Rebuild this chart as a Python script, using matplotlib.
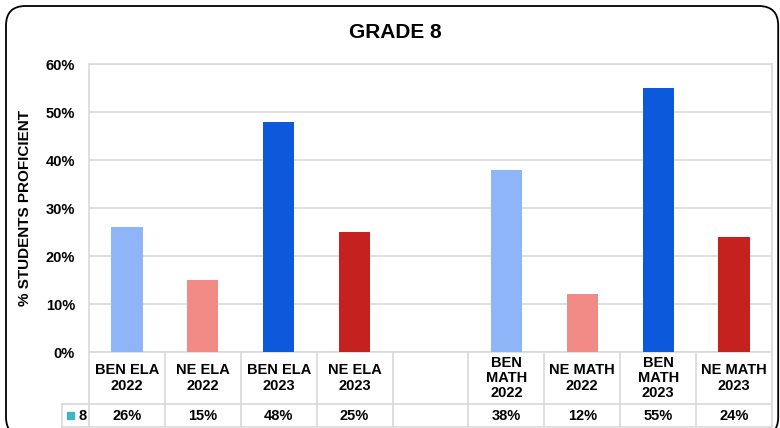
import matplotlib.pyplot as plt
import matplotlib.transforms as mtransforms
from matplotlib.patches import FancyBboxPatch, Rectangle
import numpy as np

plt.rcParams['font.family'] = ['Liberation Sans', 'DejaVu Sans']
plt.rcParams['font.weight'] = 'bold'

# data
categories = ['BEN ELA\n2022', 'NE ELA\n2022', 'BEN ELA\n2023', 'NE ELA\n2023', '',
              'BEN\nMATH\n2022', 'NE MATH\n2022', 'BEN\nMATH\n2023', 'NE MATH\n2023']
values = [26, 15, 48, 25, None, 38, 12, 55, 24]
bar_colors = ['#8FB5F9', '#F28B85', '#0C59DB', '#C5221F', 'none',
              '#8FB5F9', '#F28B85', '#0C59DB', '#C5221F']
series_name = '8'
yticks = [0, 10, 20, 30, 40, 50, 60]

W, H = 780, 428
fig = plt.figure(figsize=(W / 100, H / 100), dpi=100)

# rounded outer frame
frame = FancyBboxPatch((6 / W, 6 / H), 0.99, 0.99, boxstyle='round,pad=0,rounding_size=0.025',
                       transform=fig.transFigure, fill=False, edgecolor='black', linewidth=1.3,
                       mutation_aspect=W / H)
frame.set_y(-0.02)
frame.set_height((H - 6) / H + 0.02)
fig.patches.append(frame)

ax = fig.add_axes([89 / W, (H - 352) / H, (772 - 89) / W, 288 / H])
x = np.arange(len(categories))
for i, v in enumerate(values):
    if v is not None:
        ax.bar(x[i], v, width=0.41, color=bar_colors[i], zorder=3)

ax.set_xlim(-0.5, len(categories) - 0.5)
ax.set_ylim(0, 60)
ax.set_yticks(yticks)
ax.set_yticklabels([f'{t}%' for t in yticks], fontsize=10.5, fontweight='bold')
ax.set_xticks([])
ax.grid(axis='y', color='#D9D9D9', linewidth=1.2, zorder=0)
for s in ax.spines.values():
    s.set_color('#D9D9D9')
    s.set_linewidth(1.2)
ax.tick_params(axis='y', length=0, pad=10)
ax.set_ylabel('% STUDENTS PROFICIENT', fontsize=11, fontweight='bold', labelpad=10)
fig.text(0.507, 1 - 32 / H, 'GRADE 8', ha='center', va='center', fontsize=15, fontweight='bold')

# data table under the chart
trans = mtransforms.blended_transform_factory(ax.transData, ax.transAxes)
row1 = -52 / 288
row2 = -75 / 288
lc = '#D9D9D9'
for b in np.arange(len(categories) + 1) - 0.5:
    ax.plot([b, b], [0, row2], color=lc, lw=1.2, transform=trans, clip_on=False)
leg_left = -0.5 - 27 / 76
ax.plot([leg_left, len(categories) - 0.5], [row1, row1], color=lc, lw=1.2, transform=trans, clip_on=False)
ax.plot([leg_left, len(categories) - 0.5], [row2, row2], color=lc, lw=1.2, transform=trans, clip_on=False)
ax.plot([leg_left, leg_left], [row1, row2], color=lc, lw=1.2, transform=trans, clip_on=False)

for i, c in enumerate(categories):
    ax.text(x[i], row1 / 2, c, ha='center', va='center', fontsize=10.5, fontweight='bold',
            linespacing=1.12, transform=trans)
    if values[i] is not None:
        ax.text(x[i], (row1 + row2) / 2, f'{values[i]}%', ha='center', va='center',
                fontsize=10.5, fontweight='bold', transform=trans)

ax.add_patch(Rectangle((-0.5 - 22 / 76, (row1 + row2) / 2 - 3.5 / 288), 7 / 76, 7 / 288,
                       color='#3CB6C3', transform=trans, clip_on=False))
ax.text(-0.5 - 11 / 76, (row1 + row2) / 2, series_name, ha='left', va='center', fontsize=10.5,
        fontweight='bold', transform=trans)

fig.savefig('out.png', dpi=100)
